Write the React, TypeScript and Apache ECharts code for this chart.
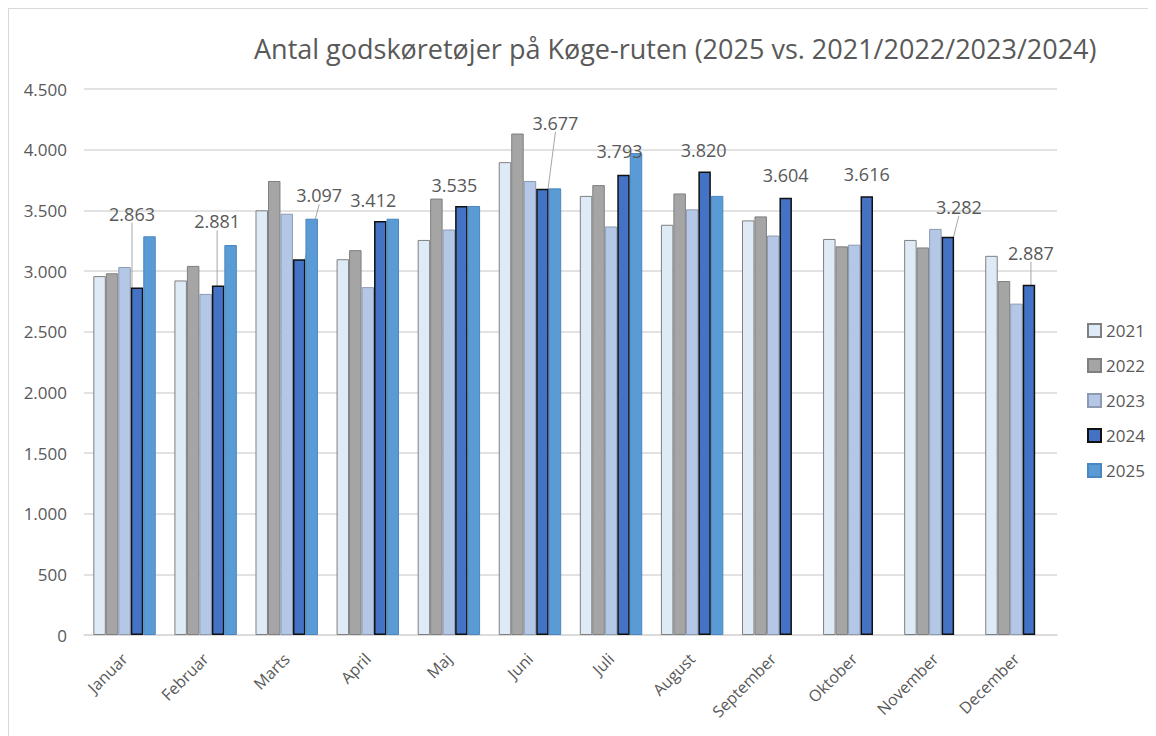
import React, { useEffect, useRef } from "react";
import * as echarts from "echarts";

const months = ["Januar", "Februar", "Marts", "April", "Maj", "Juni", "Juli", "August", "September", "Oktober", "November", "December"];
const years = ["2021", "2022", "2023", "2024", "2025"];
const y2021 = [2958, 2922, 3500, 3097, 3256, 3897, 3619, 3381, 3417, 3264, 3256, 3125];
const y2022 = [2981, 3042, 3742, 3172, 3597, 4133, 3708, 3639, 3450, 3203, 3194, 2917];
const y2023 = [3033, 2811, 3472, 2867, 3342, 3742, 3367, 3508, 3292, 3217, 3347, 2731];
const y2024 = [2863, 2881, 3097, 3412, 3535, 3677, 3793, 3820, 3604, 3616, 3282, 2887];
const y2025 = [3286, 3214, 3431, 3431, 3536, 3681, 3972, 3619, null, null, null, null];
const yTicks = [0, 500, 1000, 1500, 2000, 2500, 3000, 3500, 4000, 4500];

// label placement (offsets from default "top" position) for 2024 data labels
const labelDx = [-5, -1, 20, -7, -7, 13, -4, -1, 0, 0, 11, 2];
const labelDy = [-60, -50, -50, -7, -7, -52, -10, -8, -9, -8, -16, -18];
const leader = [true, true, true, false, false, true, false, false, false, false, true, true];

const fmt = (v: number) => String(Math.round(v)).replace(/\B(?=(\d{3})+(?!\d))/g, ".");

const styles = [
  { color: "#DEEBF7", borderColor: "#7F7F7F", borderWidth: 1 },
  { color: "#A5A5A5", borderColor: "#7F7F7F", borderWidth: 1 },
  { color: "#B4C7E7", borderColor: "#8C9BB0", borderWidth: 1 },
  { color: "#4472C4", borderColor: "#111111", borderWidth: 1.5 },
  { color: "#5B9BD5", borderColor: "#4A86C0", borderWidth: 1 },
];

export default function App() {
  const ref = useRef<HTMLDivElement>(null);
  useEffect(() => {
    if (!ref.current) return;
    const chart = echarts.init(ref.current, null, { renderer: "svg" });
    const all = [y2021, y2022, y2023, y2024, y2025];
    const series: any[] = all.map((arr, si) => {
      const base: any = {
        name: years[si],
        type: "bar",
        barGap: "0%",
        barCategoryGap: "23%",
        itemStyle: styles[si],
        data: arr,
      };
      if (si === 3) {
        base.data = arr.map((v, i) => ({ value: v, labelLine: { show: leader[i] } }));
        base.label = {
          show: true,
          position: "top",
          distance: 5,
          color: "#595959",
          fontSize: 18,
          fontFamily: "Open Sans",
          formatter: (p: any) => fmt(p.value),
        };
        base.labelLine = { show: true, lineStyle: { color: "#A6A6A6", width: 1 } };
        base.labelLayout = (p: any) => ({ dx: labelDx[p.dataIndex], dy: labelDy[p.dataIndex] });
      }
      return base;
    });
    chart.setOption({
      animation: false,
      backgroundColor: "#ffffff",
      title: {
        text: "Antal godskøretøjer på Køge-ruten (2025 vs. 2021/2022/2023/2024)",
        left: 240,
        top: 21,
        textStyle: { fontFamily: "Open Sans", fontSize: 27, fontWeight: "normal", color: "#595959" },
      },
      legend: {
        orient: "vertical",
        left: 1073,
        top: 308,
        itemWidth: 13,
        itemHeight: 13,
        itemGap: 18,
        icon: "rect",
        textStyle: { fontFamily: "Open Sans", fontSize: 17, color: "#595959" },
        data: years,
      },
      grid: { left: 75, right: 99, top: 80, bottom: 101, containLabel: false },
      xAxis: {
        type: "category",
        data: months,
        axisLine: { lineStyle: { color: "#D9D9D9", width: 1.5 } },
        axisTick: { show: false },
        axisLabel: { rotate: 45, fontSize: 16, color: "#595959", fontFamily: "Open Sans", margin: 21 },
      },
      yAxis: {
        type: "value",
        min: yTicks[0],
        max: yTicks[yTicks.length - 1],
        interval: 500,
        axisLine: { show: false },
        axisTick: { show: false },
        splitLine: { lineStyle: { color: "#D9D9D9", width: 1.5 } },
        axisLabel: { fontSize: 17, color: "#595959", fontFamily: "Open Sans", margin: 17, formatter: (v: number) => fmt(v) },
      },
      series,
    });
    return () => chart.dispose();
  }, []);
  return (
    <div
      style={{
        width: 1148,
        height: 728,
        borderTop: "1px solid #D9D9D9",
        borderLeft: "1px solid #D9D9D9",
        boxSizing: "border-box",
      }}
    >
      <div ref={ref} style={{ width: 1147, height: 727 }} />
    </div>
  );
}
